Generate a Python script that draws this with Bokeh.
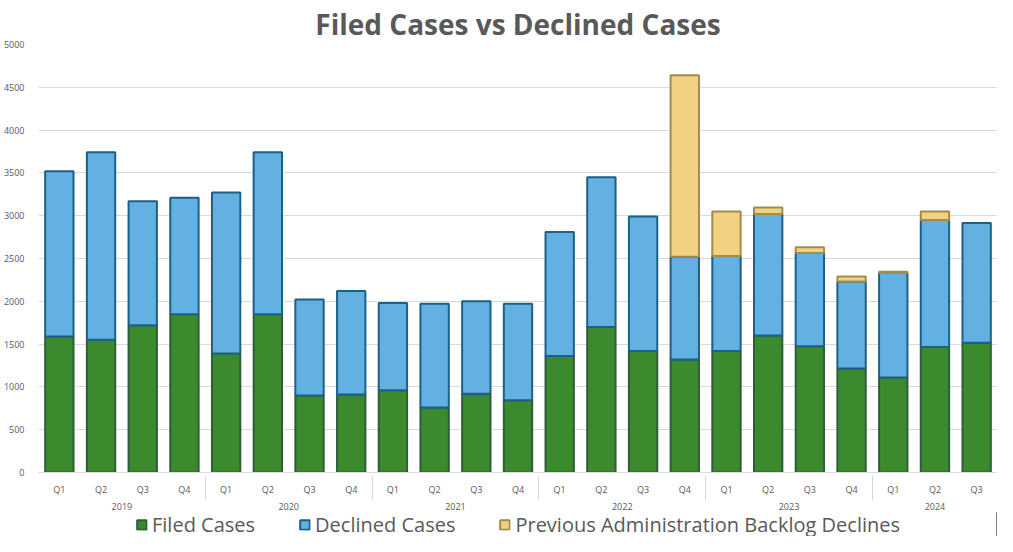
from bokeh.plotting import figure
from bokeh.layouts import column
from bokeh.models import ColumnDataSource, FactorRange, Legend, LegendItem, SingleIntervalTicker
from bokeh.embed import file_html
from bokeh.resources import INLINE

years = ["2019", "2020", "2021", "2022", "2023", "2024"]
quarters = ["Q1", "Q2", "Q3", "Q4"]
quarters_2024 = ["Q1", "Q2", "Q3"]

filed = [1590, 1550, 1720, 1850, 1390, 1850, 900, 910, 960, 760, 920, 845,
         1360, 1700, 1420, 1320, 1420, 1600, 1475, 1215, 1110, 1465, 1515]
declined = [1930, 2190, 1450, 1360, 1880, 1890, 1120, 1210, 1020, 1210, 1080, 1125,
            1450, 1750, 1570, 1200, 1110, 1420, 1090, 1015, 1220, 1485, 1400]
backlog = [0, 0, 0, 0, 0, 0, 0, 0, 0, 0, 0, 0,
           0, 0, 0, 2120, 520, 75, 65, 60, 15, 100, 0]
series_names = ["Filed Cases", "Declined Cases", "Previous Administration Backlog Declines"]

factors = []
for y in years:
    qs = quarters_2024 if y == "2024" else quarters
    for q in qs:
        factors.append((y, q))

FONT = "Open Sans"
GREY = "#595959"
FILLS = ["#3c8a2e", "#63b0e3", "#f2d282"]
LINES = ["#2e5d3a", "#1c6087", "#a18c4b"]

p = figure(x_range=FactorRange(*factors, factor_padding=0, group_padding=0,
                               subgroup_padding=0, range_padding=0),
           y_range=(0, 5000), width=997, height=512,
           output_backend="svg", toolbar_location=None,
           min_border_left=0, min_border_right=0, min_border_top=0, min_border_bottom=0)

p.title.text = "Filed Cases vs Declined Cases"
p.title.align = "center"
p.title.text_font = FONT
p.title.text_font_size = "28px"
p.title.text_font_style = "bold"
p.title.text_color = GREY
p.title.offset = 0
p.title.standoff = 4

filed_top = [f for f in filed]
decl_top = [f + d for f, d in zip(filed, declined)]
back_top = [t + b for t, b in zip(decl_top, backlog)]

src_f = ColumnDataSource(dict(x=factors, bottom=[0] * len(filed), top=filed_top))
src_d = ColumnDataSource(dict(x=factors, bottom=filed_top, top=decl_top))
idx = [i for i, b in enumerate(backlog) if b > 0]
src_b = ColumnDataSource(dict(x=[factors[i] for i in idx],
                              bottom=[decl_top[i] for i in idx],
                              top=[back_top[i] for i in idx]))

W = 0.68
for src, fc, lc in zip([src_f, src_d, src_b], FILLS, LINES):
    p.vbar(x="x", bottom="bottom", top="top", width=W, source=src,
           fill_color=fc, line_color=lc, line_width=2)

p.outline_line_color = None
p.xgrid.grid_line_color = None
p.ygrid.grid_line_color = "#d9d9d9"
p.ygrid.grid_line_width = 1

p.yaxis.ticker = SingleIntervalTicker(interval=500)
p.yaxis.axis_line_color = None
p.yaxis.major_tick_line_color = None
p.yaxis.minor_tick_line_color = None
p.yaxis.major_label_text_font = FONT
p.yaxis.major_label_text_font_size = "9px"
p.yaxis.major_label_text_color = GREY
p.yaxis.major_label_standoff = 8

xa = p.xaxis[0]
xa.axis_line_color = "#d9d9d9"
xa.major_tick_line_color = None
xa.minor_tick_line_color = None
xa.major_label_text_font = FONT
xa.major_label_text_font_size = "9px"
xa.major_label_text_color = GREY
xa.major_label_standoff = 4
xa.group_text_font = FONT
xa.group_text_font_size = "9px"
xa.group_text_color = GREY
xa.group_text_font_style = "normal"
xa.separator_line_color = "#d9d9d9"
xa.separator_line_width = 1

# legend strip below the chart (its renderers sit outside the visible range)
pl = figure(width=997, height=24, x_range=(0, 1), y_range=(0, 1),
            output_backend="svg", toolbar_location=None,
            min_border_left=0, min_border_right=0, min_border_top=0, min_border_bottom=0)
pl.axis.visible = False
pl.grid.grid_line_color = None
pl.outline_line_color = None
items = []
for name, fc, lc in zip(series_names, FILLS, LINES):
    r = pl.vbar(x=[10], top=[1], width=0.1, fill_color=fc, line_color=lc, line_width=2)
    items.append(LegendItem(label=name, renderers=[r]))
legend = Legend(items=items, orientation="horizontal", location="center",
                label_text_font=FONT, label_text_font_size="20px", label_text_color=GREY,
                glyph_width=12, glyph_height=12, spacing=43, padding=0, margin=0,
                label_standoff=5, label_height=22,
                border_line_color=None, background_fill_alpha=0)
pl.add_layout(legend, "center")

layout = column(p, pl, spacing=0)
open("out.html", "w").write(file_html(layout, INLINE))
